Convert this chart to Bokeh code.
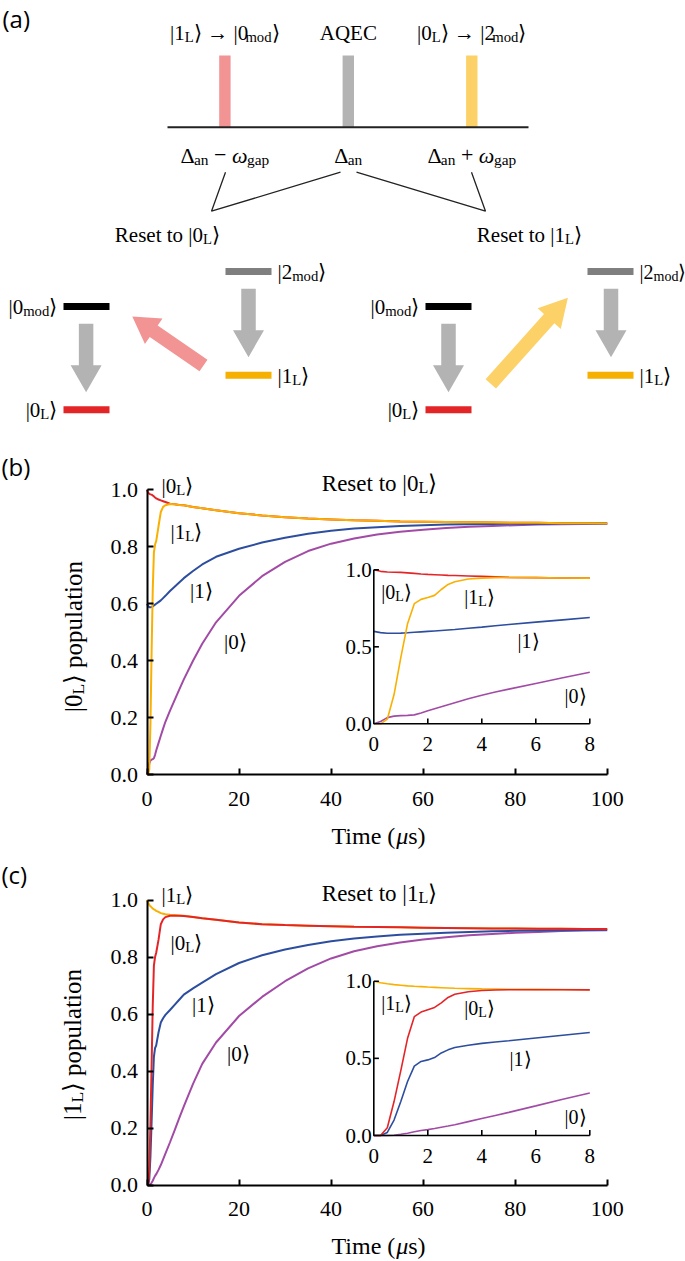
import math
from bokeh.plotting import figure
from bokeh.layouts import column
from bokeh.models import Range1d, Label, FixedTicker, PrintfTickFormatter
from bokeh.core.properties import value
from bokeh.embed import file_html
from bokeh.resources import INLINE

SERIF = "Liberation Serif"
SANS = "Open Sans"

# ---------------------------------------------------------------- data
x_ticks = [0, 20, 40, 60, 80, 100]
y_ticks = [0.0, 0.2, 0.4, 0.6, 0.8, 1.0]
inset_x_ticks = [0, 2, 4, 6, 8]
inset_y_ticks = [0.0, 0.5, 1.0]

t_main = [0, 0.25, 0.5, 0.75, 1, 1.25, 1.5, 1.75, 2, 2.5, 3, 3.5, 4, 5, 6, 7, 8,
          10, 12, 15, 20, 25, 30, 35, 40, 45, 50, 55, 60, 65, 70, 75, 80, 85, 90, 95, 100]
t_inset = [0, 0.25, 0.5, 0.75, 1, 1.25, 1.5, 1.75, 2, 2.25, 2.5, 2.75, 3, 3.5, 4, 4.5, 5, 6, 7, 8]

# (b) reset to |0_L>, population of |0_L>
b_0L = [1.0, 0.99, 0.986, 0.984, 0.983, 0.98, 0.977, 0.973, 0.97, 0.966, 0.963, 0.96, 0.957, 0.951, 0.949, 0.947, 0.946,
        0.94, 0.935, 0.928, 0.918, 0.91, 0.904, 0.899, 0.896, 0.893, 0.891, 0.889, 0.888, 0.887, 0.886, 0.885, 0.884, 0.884, 0.883, 0.883, 0.882]
b_1L = [0.0, 0.0, 0.02, 0.18, 0.43, 0.65, 0.78, 0.808, 0.82, 0.872, 0.922, 0.94, 0.946, 0.95, 0.949, 0.947, 0.946,
        0.94, 0.935, 0.928, 0.918, 0.91, 0.904, 0.899, 0.896, 0.893, 0.891, 0.889, 0.888, 0.887, 0.886, 0.885, 0.884, 0.884, 0.883, 0.883, 0.882]
b_1 = [0.6, 0.592, 0.588, 0.588, 0.589, 0.591, 0.594, 0.597, 0.6, 0.606, 0.612, 0.62, 0.628, 0.645, 0.66, 0.675, 0.69,
       0.715, 0.738, 0.765, 0.793, 0.815, 0.832, 0.846, 0.856, 0.864, 0.869, 0.873, 0.876, 0.878, 0.879, 0.88, 0.881, 0.881, 0.882, 0.882, 0.882]
b_0 = [0.0, 0.015, 0.04, 0.05, 0.053, 0.055, 0.058, 0.07, 0.085, 0.111, 0.137, 0.162, 0.186, 0.225, 0.262, 0.299, 0.335,
       0.40, 0.46, 0.535, 0.628, 0.697, 0.747, 0.785, 0.811, 0.829, 0.843, 0.853, 0.86, 0.866, 0.87, 0.873, 0.876, 0.878, 0.879, 0.88, 0.881]

bi_0L = [1.0, 0.99, 0.986, 0.984, 0.983, 0.98, 0.977, 0.973, 0.97, 0.968, 0.966, 0.964, 0.963, 0.96, 0.957, 0.954, 0.951, 0.949, 0.947, 0.946]
bi_1L = [0.0, 0.0, 0.03, 0.19, 0.43, 0.65, 0.78, 0.808, 0.82, 0.834, 0.872, 0.905, 0.922, 0.94, 0.946, 0.949, 0.95, 0.949, 0.947, 0.946]
bi_1 = [0.6, 0.592, 0.588, 0.588, 0.589, 0.591, 0.594, 0.597, 0.6, 0.603, 0.606, 0.609, 0.612, 0.62, 0.628, 0.637, 0.645, 0.66, 0.675, 0.69]
bi_0 = [0.0, 0.015, 0.04, 0.05, 0.053, 0.055, 0.058, 0.07, 0.085, 0.098, 0.111, 0.124, 0.137, 0.162, 0.186, 0.206, 0.225, 0.262, 0.299, 0.335]

# (c) reset to |1_L>, population of |1_L>
c_1L = [1.0, 0.99, 0.983, 0.978, 0.974, 0.97, 0.967, 0.965, 0.962, 0.958, 0.954, 0.952, 0.95, 0.948, 0.947, 0.946, 0.945,
        0.94, 0.936, 0.931, 0.921, 0.915, 0.912, 0.91, 0.908, 0.906, 0.905, 0.904, 0.903, 0.902, 0.901, 0.9, 0.9, 0.899, 0.899, 0.898, 0.898]
c_0L = [0.0, 0.0, 0.05, 0.22, 0.42, 0.63, 0.77, 0.8, 0.815, 0.86, 0.915, 0.932, 0.94, 0.945, 0.945, 0.945, 0.944,
        0.94, 0.936, 0.931, 0.921, 0.915, 0.912, 0.91, 0.908, 0.906, 0.905, 0.904, 0.903, 0.902, 0.901, 0.9, 0.9, 0.899, 0.899, 0.898, 0.898]
c_1 = [0.0, 0.0, 0.02, 0.1, 0.22, 0.35, 0.45, 0.48, 0.49, 0.535, 0.57, 0.585, 0.597, 0.614, 0.632, 0.65, 0.668,
       0.69, 0.71, 0.74, 0.779, 0.806, 0.826, 0.842, 0.855, 0.865, 0.872, 0.878, 0.882, 0.885, 0.888, 0.89, 0.892, 0.893, 0.894, 0.895, 0.896]
c_0 = [0.0, 0.0, 0.0, 0.002, 0.008, 0.015, 0.024, 0.032, 0.038, 0.053, 0.07, 0.09, 0.11, 0.15, 0.192, 0.235, 0.276,
       0.355, 0.425, 0.5, 0.593, 0.66, 0.715, 0.76, 0.795, 0.82, 0.838, 0.851, 0.861, 0.869, 0.876, 0.881, 0.885, 0.888, 0.891, 0.893, 0.894]

ci_1L = [1.0, 0.99, 0.983, 0.978, 0.974, 0.97, 0.967, 0.965, 0.962, 0.96, 0.958, 0.956, 0.954, 0.952, 0.95, 0.949, 0.948, 0.947, 0.946, 0.945]
ci_0L = [0.0, 0.0, 0.05, 0.22, 0.42, 0.63, 0.77, 0.8, 0.815, 0.83, 0.86, 0.895, 0.915, 0.932, 0.94, 0.943, 0.945, 0.945, 0.945, 0.944]
ci_1 = [0.0, 0.0, 0.02, 0.1, 0.22, 0.35, 0.45, 0.48, 0.49, 0.505, 0.535, 0.555, 0.57, 0.585, 0.597, 0.606, 0.614, 0.632, 0.65, 0.668]
ci_0 = [0.0, 0.0, 0.0, 0.002, 0.008, 0.015, 0.024, 0.032, 0.038, 0.045, 0.053, 0.061, 0.07, 0.09, 0.11, 0.13, 0.15, 0.192, 0.235, 0.276]

# ---------------------------------------------------------------- styles
RED = "#E42528"
YEL = "#F9B000"
BLU = "#2D4E9F"
PUR = "#A24BA6"
ARROW_GRAY = "#B3B3B3"
PINK = "#F29494"
LIGHT_YEL = "#FCD168"

W = {' ': .25, '(': .333, ')': .333, '|': .2, 'A': .722, 'C': .667, 'E': .611, 'L': .611, 'Q': .722,
     'R': .667, 'T': .611, 'a': .444, 'd': .5, 'e': .444, 'g': .5, 'i': .278, 'l': .278, 'm': .778,
     'n': .5, 'o': .5, 'p': .5, 's': .389, 't': .278, 'u': .5, 'Δ': .612, 'ω': .69, 'μ': .5,
     '−': .564, '+': .564, '→': .87, '⟩': .39}
BASE, SUB_SCALE, SUB_DROP = -0.01, 0.7, 0.2


def rich(fig, fx, fy, x, y, parts, size, align="center", font=SERIF, color="#000000", angle=0.0):
    pieces, pos = [], 0.0
    for txt, kind in parts:
        sz = size * SUB_SCALE if kind == "s" else size
        core = txt.strip(" ")
        lead = len(txt) - len(txt.lstrip(" "))
        trail = len(txt) - len(txt.rstrip(" ")) if core else 0
        pos += lead * W[" "] * sz
        if core:
            pieces.append((core, kind, sz, pos))
            pos += sum(W.get(c, 0.5) for c in core) * sz
        pos += trail * W[" "] * sz
    start = {"left": 0.0, "center": -pos / 2, "right": -pos}[align]
    for txt, kind, sz, off in pieces:
        along = start + off
        across = BASE * size + (SUB_DROP * size if kind == "s" else 0.0)
        if angle == 0:
            px, py = x + along, y + across
        else:
            px, py = x + across, y - along
        fig.add_layout(Label(x=fx(px), y=fy(py), text=txt, text_font=font,
                             text_font_size=f"{sz:.1f}px",
                             text_font_style="italic" if kind == "i" else "normal",
                             text_color=color, text_align="left", text_baseline="alphabetic",
                             angle=angle))


def ket(n, sub=None):
    if sub is None:
        return [("|" + n + "⟩", "n")]
    return [("|" + n, "n"), (sub, "s"), ("⟩", "n")]


def arrow_polygon(tail, tip, shaft_w, head_w, head_len):
    (x0, y0), (x1, y1) = tail, tip
    dx, dy = x1 - x0, y1 - y0
    L = math.hypot(dx, dy)
    ux, uy = dx / L, dy / L
    nx, ny = -uy, ux
    bx, by = x1 - ux * head_len, y1 - uy * head_len
    s, h = shaft_w / 2, head_w / 2
    xs = [x0 + nx * s, bx + nx * s, bx + nx * h, x1, bx - nx * h, bx - nx * s, x0 - nx * s]
    ys = [y0 + ny * s, by + ny * s, by + ny * h, y1, by - ny * h, by - ny * s, y0 - ny * s]
    return xs, ys


ident = lambda v: v
PAGE_W = 685

# ---------------------------------------------------------------- panel (a): rows 0..445
fa = figure(width=PAGE_W, height=445, x_range=Range1d(0, PAGE_W), y_range=Range1d(445, 0),
            output_backend="svg", toolbar_location=None, min_border=0,
            x_axis_location=None, y_axis_location=None)
fa.outline_line_color = None
fa.grid.visible = False

rich(fa, ident, ident, 2, 18, [("(a)", "n")], 24, align="left", font=SANS)

spec_cx = [224.4, 347.8, 471.3]
spec_colors = [PINK, ARROW_GRAY, LIGHT_YEL]
fa.quad(left=[c - 5.7 for c in spec_cx], right=[c + 5.7 for c in spec_cx],
        top=[55] * 3, bottom=[126.7] * 3, fill_color=spec_colors, line_color=None)
fa.line([167, 528], [126.7, 126.7], line_color="#222222", line_width=2)

rich(fa, ident, ident, spec_cx[0], 33, ket("1", "L") + [(" → |0", "n"), ("mod", "s"), ("⟩", "n")], 21)
rich(fa, ident, ident, spec_cx[1], 33, [("AQEC", "n")], 21)
rich(fa, ident, ident, spec_cx[2], 33, ket("0", "L") + [(" → |2", "n"), ("mod", "s"), ("⟩", "n")], 21)

rich(fa, ident, ident, spec_cx[0], 155, [("Δ", "n"), ("an", "s"), (" − ", "n"), ("ω", "i"), ("gap", "s")], 22)
rich(fa, ident, ident, spec_cx[1], 155, [("Δ", "n"), ("an", "s")], 22)
rich(fa, ident, ident, spec_cx[2], 155, [("Δ", "n"), ("an", "s"), (" + ", "n"), ("ω", "i"), ("gap", "s")], 22)

fa.multi_line(xs=[[225, 211, 340], [356, 485, 471]], ys=[[171.7, 210.7, 171.7], [171.7, 210.7, 171.7]],
              line_color="#222222", line_width=1.3)

rich(fa, ident, ident, 167, 235, [("Reset to ", "n")] + ket("0", "L"), 21)
rich(fa, ident, ident, 529, 235, [("Reset to ", "n")] + ket("1", "L"), 21)

# energy levels: (left x, y, colour)
lev_w, lev_h = 46, 7
levels = [(63, 306, "#000000"), (63, 409.3, RED), (225, 271, "#7F7F7F"), (225, 374.7, "#F5B000"),
          (425, 306, "#000000"), (425, 409.3, RED), (587, 271, "#7F7F7F"), (587, 374.7, "#F5B000")]
fa.quad(left=[l[0] for l in levels], right=[l[0] + lev_w for l in levels],
        top=[l[1] - lev_h / 2 for l in levels], bottom=[l[1] + lev_h / 2 for l in levels],
        fill_color=[l[2] for l in levels], line_color=None)

for off, rsize in ((0, 21), (362, 20)):
    rich(fa, ident, ident, 57 + off, 307, [("|0", "n"), ("mod", "s"), ("⟩", "n")], 21, align="right")
    rich(fa, ident, ident, 57 + off, 410, ket("0", "L"), 21, align="right")
    rich(fa, ident, ident, 277 + off, 272, [("|2", "n"), ("mod", "s"), ("⟩", "n")], rsize, align="left")
    rich(fa, ident, ident, 277 + off, 376, ket("1", "L"), 21, align="left")

arrows = [((85.6, 323.3), (85.6, 391.7), 14.5, 31, 27, ARROW_GRAY),
          ((248, 288.3), (248, 356.7), 14.5, 31, 27, ARROW_GRAY),
          ((203, 365), (131.8, 316), 14, 31, 26, PINK),
          ((448, 323.3), (448, 391.7), 14.5, 31, 27, ARROW_GRAY),
          ((610.5, 288.3), (610.5, 356.7), 14.5, 31, 27, ARROW_GRAY),
          ((490.3, 383.3), (567.4, 297.3), 14, 31, 28, LIGHT_YEL)]
axs, ays, acs = [], [], []
for tail, tip, sw, hw, hl, col in arrows:
    xs, ys = arrow_polygon(tail, tip, sw, hw, hl)
    axs.append(xs); ays.append(ys); acs.append(col)
fa.patches(axs, ays, fill_color=acs, line_color=None)


# ---------------------------------------------------------------- panels (b), (c)
fx = lambda px: (px - 146.5) / (606.7 - 146.5) * 100


def make_panel(height, fy, top_page, bottom_page):
    p = figure(width=PAGE_W, height=height,
               x_range=Range1d(fx(0), fx(PAGE_W)), y_range=Range1d(fy(bottom_page), fy(top_page)),
               output_backend="svg", toolbar_location=None, min_border=0)
    p.outline_line_color = None
    p.grid.visible = False
    xa, ya = p.xaxis[0], p.yaxis[0]
    xa.fixed_location = 0
    ya.fixed_location = 0
    xa.bounds = (0, 100)
    ya.bounds = (0, 1)
    for ax in (xa, ya):
        ax.axis_line_width = 2
        ax.axis_line_color = "black"
        ax.major_tick_in = 6
        ax.major_tick_out = 0
        ax.major_tick_line_width = 2
        ax.major_tick_line_color = "black"
        ax.minor_tick_line_color = None
        ax.major_label_text_font = SERIF
        ax.major_label_text_font_size = "22px"
        ax.major_label_text_color = "black"
    xa.ticker = FixedTicker(ticks=x_ticks, minor_ticks=[])
    ya.ticker = FixedTicker(ticks=y_ticks, minor_ticks=[])
    ya.formatter = PrintfTickFormatter(format="%.1f")
    xa.major_label_standoff = 17
    ya.major_label_standoff = 9
    return p


def add_inset(p, fy, top_px, bottom_px, curves):
    sub = p.subplot(x_source=Range1d(0, 8), y_source=Range1d(0, 1),
                    x_target=Range1d(fx(373.3), fx(589.3)),
                    y_target=Range1d(fy(bottom_px), fy(top_px)))
    for ys, col in curves:
        sub.line(t_inset, ys, line_color=col, line_width=1.6)
    sub.line([0, 0, 8], [1, 0, 0], line_color="black", line_width=1.6)
    xt = inset_x_ticks[1:]
    sub.segment(x0=xt, y0=[0] * len(xt), x1=xt, y1=[0.035] * len(xt), line_color="black", line_width=1.6)
    yt = inset_y_ticks[1:]
    sub.segment(x0=[0] * len(yt), y0=yt, x1=[0.19] * len(yt), y1=yt, line_color="black", line_width=1.6)
    sub.text(x=inset_x_ticks, y=[-0.13] * len(inset_x_ticks), text=[str(v) for v in inset_x_ticks],
             text_font=value(SERIF), text_font_size=value("21px"), text_color="black",
             text_align=value("center"), text_baseline=value("middle"))
    sub.text(x=[-0.08] * len(inset_y_ticks), y=inset_y_ticks, text=[f"{v:.1f}" for v in inset_y_ticks],
             text_font=value(SERIF), text_font_size=value("21px"), text_color="black",
             text_align=value("right"), text_baseline=value("middle"))
    return sub


# panel (b): rows 445..855
fyb = lambda py: (774.3 - py) / 285
fb = make_panel(410, fyb, 445, 855)
for ys, col in [(b_0L, RED), (b_0, PUR), (b_1, BLU), (b_1L, YEL)]:
    fb.line(t_main, ys, line_color=col, line_width=2)
add_inset(fb, fyb, 569.3, 723.3, [(bi_0L, RED), (bi_0, PUR), (bi_1, BLU), (bi_1L, YEL)])
rich(fb, fx, fyb, 1, 466, [("(b)", "n")], 24, align="left", font=SANS)
rich(fb, fx, fyb, 379, 483, [("Reset to ", "n")] + ket("0", "L"), 23)
rich(fb, fx, fyb, 177, 486, ket("0", "L"), 21)
rich(fb, fx, fyb, 186, 532, ket("1", "L"), 21)
rich(fb, fx, fyb, 201, 591, ket("1"), 21)
rich(fb, fx, fyb, 235, 642, ket("0"), 21)
rich(fb, fx, fyb, 396, 592, ket("0", "L"), 20)
rich(fb, fx, fyb, 479, 597, ket("1", "L"), 20)
rich(fb, fx, fyb, 528, 641, ket("1"), 20)
rich(fb, fx, fyb, 575, 696, ket("0"), 20)
rich(fb, fx, fyb, 378, 836, [("Time (", "n"), ("μ", "i"), ("s)", "n")], 24)
rich(fb, fx, fyb, 73, 636, ket("0", "L") + [(" population", "n")], 25, angle=math.pi / 2)

# panel (c): rows 855..1261
fyc = lambda py: (1184.5 - py) / 285
fc = make_panel(406, fyc, 855, 1261)
for ys, col in [(c_1L, YEL), (c_0, PUR), (c_1, BLU), (c_0L, RED)]:
    fc.line(t_main, ys, line_color=col, line_width=2)
add_inset(fc, fyc, 980.7, 1135, [(ci_1L, YEL), (ci_0, PUR), (ci_1, BLU), (ci_0L, RED)])
rich(fc, fx, fyc, 1, 874, [("(c)", "n")], 24, align="left", font=SANS)
rich(fc, fx, fyc, 379, 893, [("Reset to ", "n")] + ket("1", "L"), 23)
rich(fc, fx, fyc, 177, 895, ket("1", "L"), 21)
rich(fc, fx, fyc, 186, 943, ket("0", "L"), 21)
rich(fc, fx, fyc, 203, 1005, ket("1"), 21)
rich(fc, fx, fyc, 238, 1054, ket("0"), 21)
rich(fc, fx, fyc, 396, 1003, ket("1", "L"), 20)
rich(fc, fx, fyc, 479, 1008, ket("0", "L"), 20)
rich(fc, fx, fyc, 520, 1059, ket("1"), 20)
rich(fc, fx, fyc, 575, 1117, ket("0"), 20)
rich(fc, fx, fyc, 378, 1246, [("Time (", "n"), ("μ", "i"), ("s)", "n")], 24)
rich(fc, fx, fyc, 72, 1044, ket("1", "L") + [(" population", "n")], 25, angle=math.pi / 2)

layout = column(fa, fb, fc)
open("out.html", "w").write(file_html(layout, INLINE, title="AQEC reset"))
